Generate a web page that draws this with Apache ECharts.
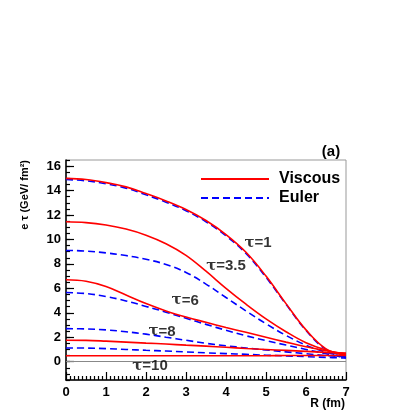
<!DOCTYPE html>
<html>
<head>
<meta charset="utf-8">
<script src="https://cdn.jsdelivr.net/npm/echarts@6/dist/echarts.min.js"></script>
<style>
  html, body { margin: 0; padding: 0; background: #fff; }
  #main { width: 415px; height: 415px; }
</style>
</head>
<body>
<div id="main"></div>
<script>
// radius grid (fm)
var radius = [0, 0.5, 1, 1.5, 2, 2.5, 3, 3.5, 4, 4.5, 5, 5.5, 6, 6.5, 7];

// e*tau (GeV/fm^2), viscous hydro
var viscTau1   = [15.0, 14.9, 14.65, 14.3, 13.75, 13.15, 12.45, 11.55, 10.4, 8.95, 7.0, 4.75, 2.6, 1.05, 0.5];
var viscTau3p5 = [11.45, 11.38, 11.18, 10.85, 10.35, 9.65, 8.7, 7.4, 6.0, 4.7, 3.5, 2.45, 1.55, 0.95, 0.57];
var viscTau6   = [6.7, 6.58, 6.15, 5.45, 4.75, 4.15, 3.65, 3.22, 2.8, 2.4, 2.0, 1.6, 1.22, 0.9, 0.65];
var viscTau8   = [1.75, 1.74, 1.68, 1.6, 1.52, 1.44, 1.35, 1.27, 1.18, 1.08, 1.0, 0.92, 0.84, 0.76, 0.7];
var viscTau10  = [0.48, 0.48, 0.48, 0.48, 0.48, 0.48, 0.49, 0.49, 0.49, 0.49, 0.49, 0.5, 0.5, 0.5, 0.5];

// e*tau, ideal (Euler) hydro
var eulerTau1   = [14.9, 14.8, 14.55, 14.2, 13.65, 13.05, 12.35, 11.45, 10.3, 8.85, 6.9, 4.7, 2.55, 1.0, 0.45];
var eulerTau3p5 = [9.1, 9.05, 8.9, 8.68, 8.38, 7.95, 7.3, 6.35, 5.25, 4.15, 3.1, 2.15, 1.35, 0.78, 0.38];
var eulerTau6   = [5.66, 5.57, 5.33, 4.97, 4.52, 4.05, 3.55, 3.05, 2.57, 2.12, 1.72, 1.36, 1.0, 0.65, 0.3];
var eulerTau8   = [2.7, 2.68, 2.6, 2.45, 2.25, 2.0, 1.75, 1.5, 1.3, 1.12, 0.96, 0.8, 0.65, 0.5, 0.4];
var eulerTau10  = [1.12, 1.11, 1.07, 1.0, 0.93, 0.87, 0.8, 0.72, 0.66, 0.6, 0.53, 0.47, 0.41, 0.35, 0.3];

// tick labels
var xTicks = [0, 1, 2, 3, 4, 5, 6, 7];
var yTicks = [0, 2, 4, 6, 8, 10, 12, 14, 16];

// curve annotations
var tauText = ['τ=1', 'τ=3.5', 'τ=6', 'τ=8', 'τ=10'];
var tauAtR  = [4.8, 4.0, 2.98, 2.4, 2.1];
var tauAtE  = [9.7, 7.8, 5.0, 2.47, -0.33];

var FONT = 'Liberation Sans, Arial, Helvetica, sans-serif';

var pair = function(ys){
    return radius.map(function(r, i){ return [r, ys[i]]; });
};

var mkLine = function(name, ys, dashed){
    return {
        name: name,
        type: 'line',
        smooth: 0.4,
        symbol: 'none',
        silent: true,
        animation: false,
        z: dashed ? 3 : 4,
        lineStyle: {
            color: dashed ? '#0000ff' : '#ff0000',
            width: 1.6,
            type: dashed ? [7, 4] : 'solid'
        },
        itemStyle: { color: dashed ? '#0000ff' : '#ff0000' },
        data: pair(ys)
    };
};

var chart = echarts.init(document.getElementById('main'), null, { renderer: 'canvas' });

var series = [
    mkLine('Viscous', viscTau1, false),
    mkLine('Euler', eulerTau1, true),
    mkLine('Viscous', viscTau3p5, false),
    mkLine('Euler', eulerTau3p5, true),
    mkLine('Viscous', viscTau6, false),
    mkLine('Euler', eulerTau6, true),
    mkLine('Viscous', viscTau8, false),
    mkLine('Euler', eulerTau8, true),
    mkLine('Viscous', viscTau10, false),
    mkLine('Euler', eulerTau10, true)
];

// zero reference line
series[0].markLine = {
    silent: true,
    symbol: 'none',
    label: { show: false },
    lineStyle: { color: '#888', width: 1, type: 'solid' },
    data: [{ yAxis: 0 }]
};

// tau labels
series.push({
    type: 'scatter',
    symbolSize: 0,
    silent: true,
    animation: false,
    z: 10,
    data: tauText.map(function(t, i){ return { value: [tauAtR[i], tauAtE[i]], name: t }; }),
    label: {
        show: true,
        position: [0, 0],
        align: 'center',
        verticalAlign: 'middle',
        color: '#000',
        formatter: function(p){ return '{g|τ}{t|' + p.name.substr(1) + '}'; },
        rich: {
            g: { fontFamily: 'DejaVu Serif, serif', fontWeight: 'bold', fontSize: 15, color: '#000' },
            t: { fontFamily: FONT, fontWeight: 'bold', fontSize: 15, color: '#000' }
        }
    }
});

var option = {
    backgroundColor: '#fff',
    animation: false,
    grid: {
        left: 66, top: 160, width: 280, height: 220,
        show: true, borderColor: '#999', borderWidth: 1,
        containLabel: false
    },
    legend: {
        data: ['Viscous', 'Euler'],
        orient: 'vertical',
        left: 200,
        top: 171,
        padding: 0,
        itemWidth: 68,
        itemHeight: 14,
        itemGap: 3,
        selectedMode: false,
        itemStyle: { opacity: 0 },
        textStyle: {
            fontFamily: FONT, fontWeight: 'bold', fontSize: 16, color: '#000',
            padding: [0, 0, 0, 5]
        }
    },
    xAxis: {
        type: 'value',
        min: 0, max: 7, interval: 1,
        axisLine: { show: true, onZero: false, lineStyle: { color: '#000', width: 1.5 } },
        axisTick: { show: true, inside: true, length: 8, lineStyle: { color: '#000', width: 1.2 } },
        minorTick: { show: true, splitNumber: 10, length: 4, lineStyle: { color: '#000', width: 1.2 } },
        splitLine: { show: false },
        axisLabel: {
            margin: 6, fontFamily: FONT, fontWeight: 'bold', fontSize: 13, color: '#000',
            formatter: function(v){ return xTicks.indexOf(v) >= 0 ? String(v) : ''; }
        }
    },
    yAxis: [
        {
            type: 'value',
            min: -1.5, max: 16.5,
            position: 'left',
            axisLine: { show: true, onZero: false, lineStyle: { color: '#000', width: 1.5 } },
            axisTick: { show: true, inside: true, length: 8, customValues: yTicks, lineStyle: { color: '#000', width: 1.2 } },
            splitLine: { show: false },
            axisLabel: {
                margin: 5, fontFamily: FONT, fontWeight: 'bold', fontSize: 13, color: '#000',
                customValues: yTicks
            }
        },
        {
            // minor ticks every 0.5
            type: 'value',
            min: -1.5, max: 16.5, interval: 0.5,
            position: 'left',
            axisLine: { show: false },
            axisTick: { show: true, inside: true, length: 4, lineStyle: { color: '#000', width: 1.2 } },
            axisLabel: { show: false },
            splitLine: { show: false }
        }
    ],
    graphic: [
        {
            type: 'text',
            x: 25, y: 160,
            rotation: Math.PI / 2,
            style: {
                text: 'e τ (GeV/ fm²)',
                font: 'bold 11px ' + FONT,
                fill: '#000',
                textAlign: 'right',
                textVerticalAlign: 'middle'
            }
        },
        {
            type: 'text',
            x: 345, y: 404,
            style: {
                text: 'R (fm)',
                font: 'bold 12px ' + FONT,
                fill: '#000',
                textAlign: 'right',
                textVerticalAlign: 'middle'
            }
        },
        {
            type: 'text',
            x: 331, y: 152,
            style: {
                text: '(a)',
                font: 'bold 15px ' + FONT,
                fill: '#000',
                textAlign: 'center',
                textVerticalAlign: 'middle'
            }
        }
    ],
    series: series
};

if (option && typeof option === 'object') {
    chart.setOption(option);
};
</script>
</body>
</html>
